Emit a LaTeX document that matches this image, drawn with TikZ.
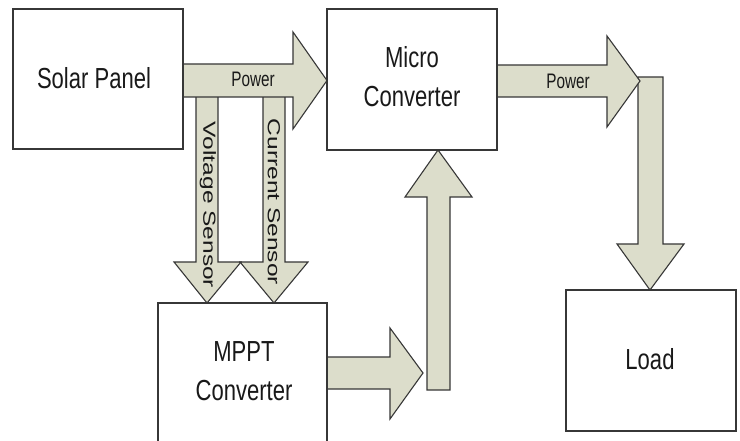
\documentclass[tikz,border=0pt]{standalone}
\usepackage{fontspec}
\usepackage{graphicx}
\setmainfont{Liberation Sans}
\newfontfamily\cond[FakeStretch=0.76]{Liberation Sans}
\newfontfamily\condsmall[FakeStretch=0.73]{Liberation Sans}
\definecolor{arrowfill}{RGB}{220,221,203}
\definecolor{edge}{RGB}{55,55,55}
\definecolor{ink}{RGB}{25,25,25}
\begin{document}
\begin{tikzpicture}[x=1pt,y=-1pt,
  box/.style={draw=edge, line width=1.3pt, fill=white, inner sep=0pt},
  blk/.style={draw=edge, line width=1.1pt, fill=arrowfill, line join=miter},
  big/.style={font=\cond\fontsize{29}{39}\selectfont, text=ink, align=center},
  small/.style={font=\condsmall\fontsize{21}{24}\selectfont, text=ink, inner sep=0pt},
  vert/.style={font=\fontsize{17.5}{20}\selectfont, text=ink, rotate=-90, inner sep=0pt}]
\useasboundingbox (0,0) rectangle (740,441);
\fill[white] (0,0) rectangle (740,441);

% sensor arrows
\draw[blk] (196,90) -- (196,262) -- (174,262) -- (207,303) -- (241,262) -- (218,262) -- (218,90) -- cycle;
\draw[blk] (263,90) -- (263,262) -- (240,262) -- (274,303) -- (308,262) -- (285,262) -- (285,90) -- cycle;
% power arrow from solar panel
\draw[blk] (183,64) -- (293,64) -- (293,32) -- (327,80.5) -- (293,129) -- (293,97) -- (183,97) -- cycle;
% vertical arrow to load
\draw[blk] (638,77) -- (663,77) -- (663,244) -- (684,244) -- (650,290) -- (617,244) -- (638,244) -- cycle;
% power arrow from micro converter
\draw[blk] (497,65) -- (607,65) -- (607,36) -- (640,81) -- (607,127) -- (607,97) -- (497,97) -- cycle;
% MPPT output arrow
\draw[blk] (327,357) -- (390,357) -- (390,328) -- (423,373) -- (390,419) -- (390,389) -- (327,389) -- cycle;
% up arrow into micro converter
\draw[blk] (427,390) -- (427,197) -- (405,197) -- (438,150) -- (472,197) -- (450,197) -- (450,390) -- cycle;

% boxes
\draw[box] (13,9) rectangle (183,149);
\draw[box] (327,9) rectangle (497,150);
\draw[box] (158,303) rectangle (327,443);
\draw[box] (566,290) rectangle (736,431);
\node[big] (solar) at (94,78) {Solar Panel};
\node[big] (micro) at (412,77) {Micro\\Converter};
\node[big] (mppt) at (244,371) {MPPT\\Converter};
\node[big] (load) at (650,359) {Load};

% labels
\node[small] (p1) at (253,79) {Power};
\node[small] (p2) at (568,81) {Power};
\node[vert] (vs) at (208,205) {\scalebox{1.4}[1]{Voltage Sensor}};
\node[vert] (cs) at (274,202) {\scalebox{1.4}[1]{Current Sensor}};
\end{tikzpicture}
\end{document}
